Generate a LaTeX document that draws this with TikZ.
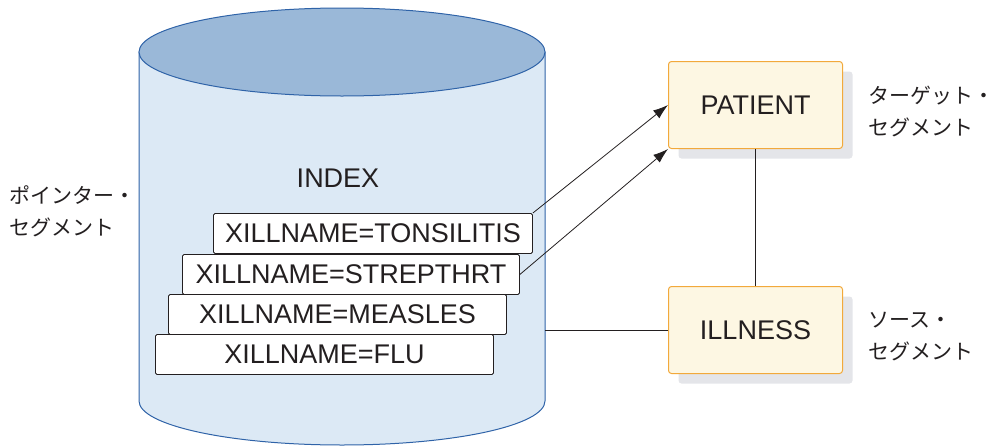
\documentclass[tikz,border=0pt]{standalone}
\usepackage{fontspec}
\setmainfont{Liberation Sans}
\newfontfamily\jafont{Noto Sans CJK JP}
\usepackage{xcolor}
\usepackage{tikz}
\usetikzlibrary{arrows.meta,positioning,shadows}
\definecolor{idxline}{HTML}{2F63A8}
\definecolor{idxbody}{HTML}{DCE9F5}
\definecolor{idxtop}{HTML}{9AB8D8}
\definecolor{segfill}{HTML}{FDF7E3}
\definecolor{segline}{HTML}{F2A93B}
\definecolor{segshadow}{HTML}{E4E5E9}
\definecolor{txtdark}{HTML}{231F20}
\tikzset{
  latin/.style={font=\fontsize{27}{31}\selectfont,text=txtdark},
  ptrrec/.style={latin,draw=txtdark,fill=white,rounded corners=1.5pt,line width=0.9pt,minimum height=40,inner sep=0pt,anchor=north west},
  seg/.style={latin,draw=segline,fill=segfill,rounded corners=3pt,line width=1pt,minimum width=174,minimum height=87,anchor=north west,
    drop shadow={shadow xshift=10pt,shadow yshift=-10pt,fill=segshadow,opacity=1}},
  jalabel/.style={font=\jafont\fontsize{21}{32}\selectfont,text=txtdark,align=left,anchor=west,inner sep=0pt},
  ar/.style={-{Latex[length=15pt,width=10pt]},draw=txtdark,line width=0.8pt},
  ln/.style={draw=txtdark,line width=0.8pt},
}
\begin{document}
\begin{tikzpicture}[x=1pt,y=-1pt]
  \useasboundingbox (0,0) rectangle (997,445);
  % index database
  \filldraw[fill=idxbody,draw=idxline,line width=1pt] (139,52) -- (139,401) arc[start angle=180,end angle=0,x radius=203,y radius=44] -- (545,52) -- cycle;
  \filldraw[fill=idxtop,draw=idxline,line width=1pt] (342,52) ellipse[x radius=203,y radius=44];
  \coordinate (idxR) at (545,52);
  \node[latin] (index) at (338,178) {INDEX};
  \node[ptrrec,minimum width=319] (tons) at (213,213) {XILLNAME=TONSILITIS};
  \node[ptrrec,minimum width=337] (strep) at (182,254) {XILLNAME=STREPTHRT};
  \node[ptrrec,minimum width=338] (measl) at (168,294) {XILLNAME=MEASLES};
  \node[ptrrec,minimum width=338] (flu) at (155,334) {XILLNAME=FLU};
  % segments
  \node[seg] (patient) at (668,61) {PATIENT};
  \node[seg] (illness) at (668,286) {ILLNESS};
  \draw[ar] (tons.north east) -- (patient.west);
  \draw[ar] (strep.east) -- (patient.south west);
  \draw[ln] (patient.south) -- (illness.north);
  \draw[ln] (illness.west) -- (illness.west -| idxR);
  % labels
  \node[jalabel] (ptrlbl) at (9,211) {ポインター・\\セグメント};
  \node[jalabel] (tgtlbl) at (868,112) {ターゲット・\\セグメント};
  \node[jalabel] (srclbl) at (868,337) {ソース・\\セグメント};
\end{tikzpicture}
\end{document}
